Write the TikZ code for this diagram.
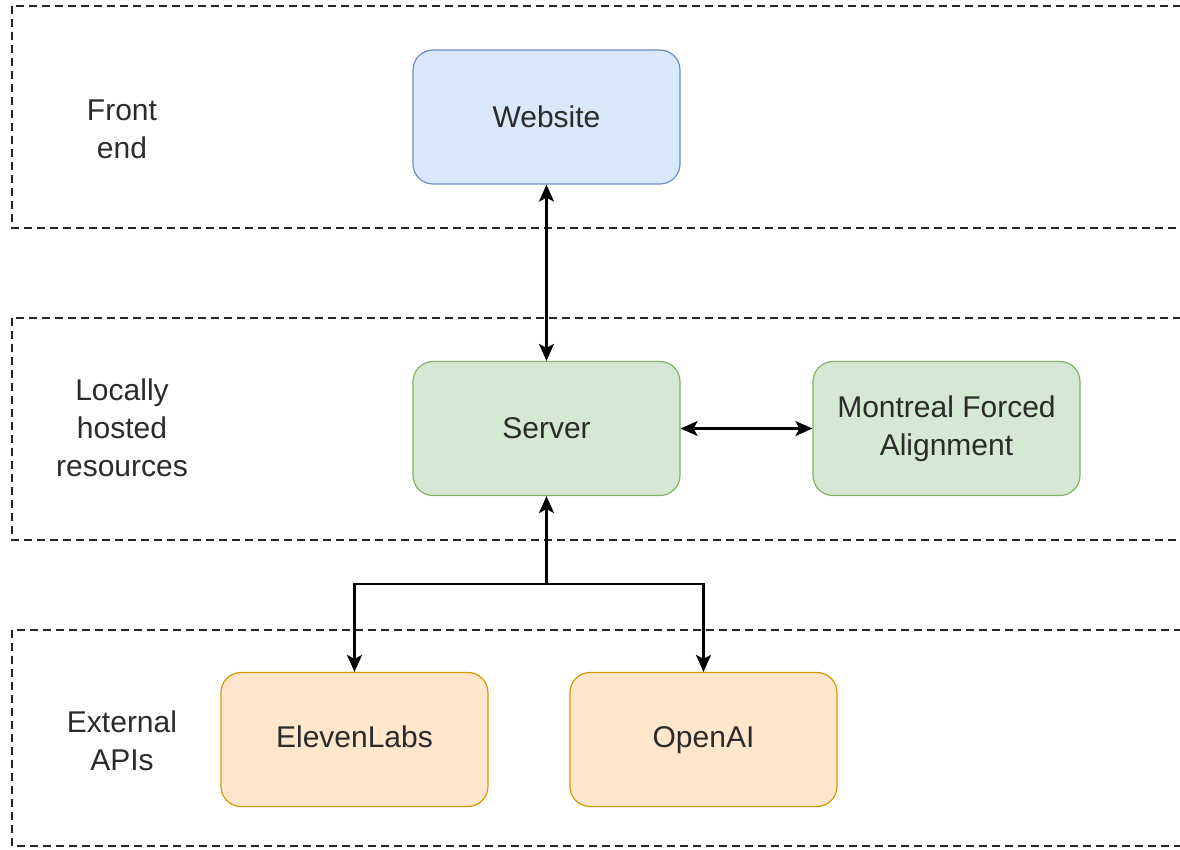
\documentclass[tikz,border=0pt]{standalone}
\usepackage{fontspec}
\setmainfont{Liberation Sans}
\usetikzlibrary{arrows.meta}

\definecolor{webfill}{HTML}{DAE8FC}
\definecolor{webline}{HTML}{6C8EBF}
\definecolor{localfill}{HTML}{D5E8D4}
\definecolor{localline}{HTML}{82B366}
\definecolor{apifill}{HTML}{FFE6CC}
\definecolor{apiline}{HTML}{D79B00}
\definecolor{textgray}{HTML}{2B2B2B}

\begin{document}
\begin{tikzpicture}[x=0.5pt,y=-0.5pt,
  layer/.style={draw=black!85, dash pattern=on 4pt off 2.5pt, line width=0.9pt},
  block/.style={rounded corners=10pt, minimum width=133.5pt, minimum height=67pt,
    line width=0.6pt, align=center, text=textgray, font=\fontsize{15}{19}\selectfont},
  webblock/.style={block, fill=webfill, draw=webline},
  localblock/.style={block, fill=localfill, draw=localline},
  apiblock/.style={block, fill=apifill, draw=apiline, text height=11pt, text depth=3pt},
  tier/.style={align=center, text=textgray, font=\fontsize{15}{19}\selectfont},
  link/.style={line width=1.1pt, draw=black, arrows={-Stealth[length=8.5pt,width=7.5pt,inset=2pt]}},
  duallink/.style={link, arrows={Stealth[length=8.5pt,width=7.5pt,inset=2pt]-Stealth[length=8.5pt,width=7.5pt,inset=2pt]}}
]
\useasboundingbox (0,0) rectangle (1180,850);
\clip (0,0) rectangle (1180,850);

% tiers
\draw[layer] (12,6) rectangle (1200,228);
\draw[layer] (12,318) rectangle (1200,540);
\draw[layer] (12,630) rectangle (1200,846);

\node[tier] (front) at (122,129) {Front\\end};
\node[tier] (local) at (122,428) {Locally\\hosted\\resources};
\node[tier] (external) at (122,741) {External\\APIs};

% front end
\node[webblock] (website) at (546.5,117) {Website};

% locally hosted
\node[localblock] (server) at (546.5,428.5) {Server};
\node[localblock] (mfa) at (946.5,428.5) {Montreal Forced\\Alignment};

% external apis
\node[apiblock] (eleven) at (354.5,739.5) {ElevenLabs};
\node[apiblock] (openai) at (703.5,739.5) {OpenAI};

% connections
\draw[duallink] (website) -- (server);
\draw[duallink] (server) -- (mfa);
\coordinate (split) at (546.5,584);
\draw[link] (split) -- (server);
\draw[link] (split) -| (eleven);
\draw[link] (split) -| (openai);

\end{tikzpicture}
\end{document}
